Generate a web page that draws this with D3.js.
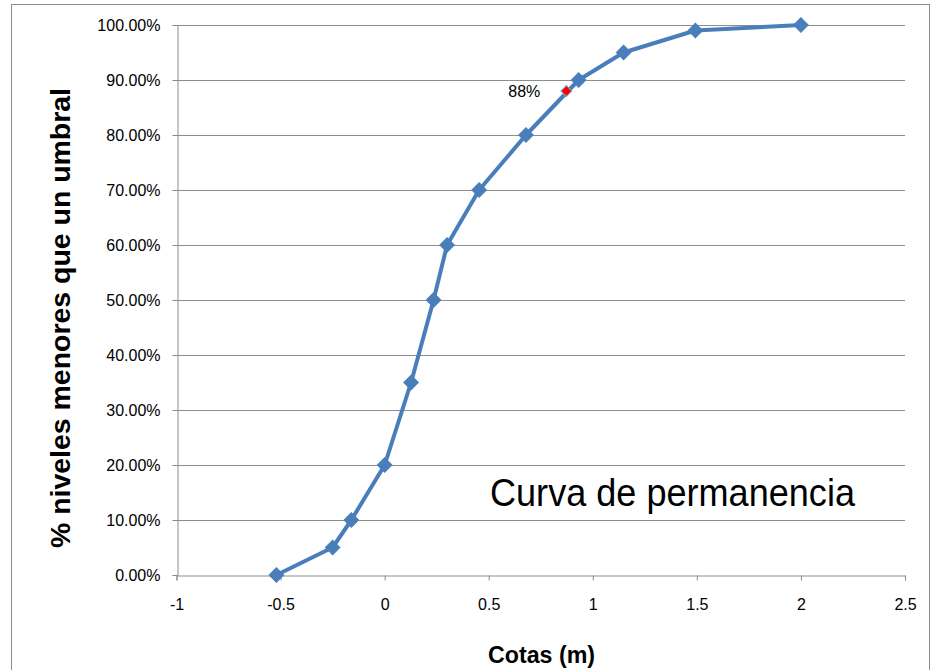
<!DOCTYPE html>
<html>
<head>
<meta charset="utf-8">
<script src="https://cdn.jsdelivr.net/npm/d3@7"></script>
<style>
  body { margin: 0; background: #fff; }
  svg text { font-family: "Liberation Sans", Arial, sans-serif; }
</style>
</head>
<body>
<div id="chart"></div>
<script>
// datos
var cotas = [-0.52, -0.25, -0.16, 0, 0.127, 0.235, 0.30, 0.454, 0.679, 0.932, 1.148, 1.493, 2.0];
var porcentajes = [0, 0.05, 0.10, 0.20, 0.35, 0.50, 0.60, 0.70, 0.80, 0.90, 0.95, 0.99, 1.00];
var puntoCota = [0.873];
var puntoPct = [0.88];
var xTicks = [-1, -0.5, 0, 0.5, 1, 1.5, 2, 2.5];
var yTicks = [0, 0.1, 0.2, 0.3, 0.4, 0.5, 0.6, 0.7, 0.8, 0.9, 1.0];

var width = 935, height = 670;
var margin = {top: 25, right: 30, bottom: 95, left: 176.5};

var svg = d3.select("#chart").append("svg")
    .attr("width", width)
    .attr("height", height);

// borde exterior
svg.append("rect")
    .attr("x", 11.5).attr("y", 4.5)
    .attr("width", 918).attr("height", 700)
    .attr("fill", "none")
    .attr("stroke", "#8c8c8c")
    .attr("stroke-width", 1);

var x = d3.scaleLinear().domain([-1, 2.5]).range([margin.left, 905]);
var y = d3.scaleLinear().domain([0, 1]).range([575, margin.top]);

// rejilla
svg.append("g")
    .selectAll("line")
    .data(yTicks.slice(1))
    .enter().append("line")
    .attr("x1", x(-1)).attr("x2", x(2.5))
    .attr("y1", function(d) { return Math.round(y(d)) + 0.5; })
    .attr("y2", function(d) { return Math.round(y(d)) + 0.5; })
    .attr("stroke", "#8c8c8c")
    .attr("stroke-width", 1);

// eje y
var yAxis = svg.append("g")
    .attr("transform", "translate(" + (Math.round(x(-1)) + 0.5) + ",0)")
    .call(d3.axisLeft(y).tickValues(yTicks).tickSize(5).tickPadding(12)
        .tickFormat(function(d) { return (d * 100).toFixed(2) + "%"; }));
yAxis.select(".domain").attr("stroke", "#8c8c8c");
yAxis.selectAll(".tick line").attr("stroke", "#8c8c8c");
yAxis.selectAll(".tick text")
    .attr("font-size", 16)
    .attr("fill", "#000");

// eje x
var xAxis = svg.append("g")
    .attr("transform", "translate(0," + (Math.round(y(0)) + 0.5) + ")")
    .call(d3.axisBottom(x).tickValues(xTicks).tickSize(5).tickPadding(18)
        .tickFormat(function(d) { return String(d); }));
xAxis.select(".domain").attr("stroke", "#8c8c8c");
xAxis.selectAll(".tick line").attr("stroke", "#8c8c8c");
xAxis.selectAll(".tick text")
    .attr("font-size", 16)
    .attr("fill", "#000");

// serie
var datos = cotas.map(function(c, i) { return {x: c, y: porcentajes[i]}; });

var linea = d3.line()
    .x(function(d) { return x(d.x); })
    .y(function(d) { return y(d.y); });

svg.append("path")
    .datum(datos)
    .attr("d", linea)
    .attr("fill", "none")
    .attr("stroke", "#4a7ebb")
    .attr("stroke-width", 4)
    .attr("stroke-linejoin", "round");

var rombo = d3.symbol().type(d3.symbolSquare).size(105);

svg.append("g")
    .selectAll("path")
    .data(datos)
    .enter().append("path")
    .attr("d", rombo)
    .attr("transform", function(d) { return "translate(" + x(d.x) + "," + y(d.y) + ") rotate(45)"; })
    .attr("fill", "#4a7ebb")
    .attr("stroke", "#4a7ebb")
    .attr("stroke-width", 1);

// punto 88%
var punto = puntoCota.map(function(c, i) { return {x: c, y: puntoPct[i]}; });
svg.append("g")
    .selectAll("path")
    .data(punto)
    .enter().append("path")
    .attr("d", d3.symbol().type(d3.symbolSquare).size(60))
    .attr("transform", function(d) { return "translate(" + x(d.x) + "," + y(d.y) + ") rotate(45)"; })
    .attr("fill", "#ff0000")
    .attr("stroke", "#7fa6d6")
    .attr("stroke-width", 1);

svg.selectAll(".etiqueta")
    .data(punto)
    .enter().append("text")
    .attr("class", "etiqueta")
    .attr("x", function(d) { return x(d.x) - 26; })
    .attr("y", function(d) { return y(d.y) + 6; })
    .attr("text-anchor", "end")
    .attr("font-size", 16)
    .text(function(d) { return Math.round(d.y * 100) + "%"; });

// titulo dentro del grafico
svg.append("text")
    .attr("x", 490)
    .attr("y", 506)
    .attr("font-size", 39)
    .attr("textLength", 365)
    .attr("lengthAdjust", "spacingAndGlyphs")
    .text("Curva de permanencia");

// titulos de ejes
svg.append("text")
    .attr("transform", "translate(70,548) rotate(-90)")
    .attr("font-size", 28)
    .attr("font-weight", "bold")
    .attr("textLength", 460)
    .attr("lengthAdjust", "spacingAndGlyphs")
    .text("% niveles menores que un umbral");

svg.append("text")
    .attr("x", 488)
    .attr("y", 663)
    .attr("font-size", 24)
    .attr("font-weight", "bold")
    .attr("textLength", 107)
    .attr("lengthAdjust", "spacingAndGlyphs")
    .text("Cotas (m)");
</script>
</body>
</html>
